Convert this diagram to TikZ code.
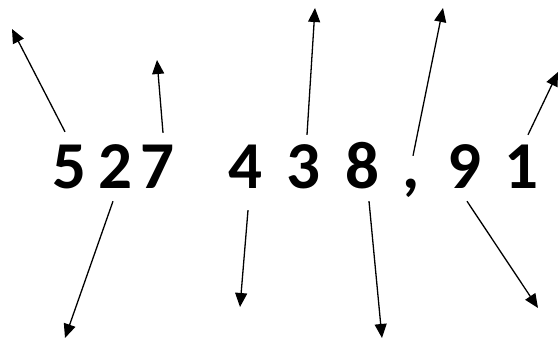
\documentclass[tikz,border=0pt]{standalone}
\usepackage{fontspec}
\setmainfont{Carlito}
\usetikzlibrary{arrows.meta}
\tikzset{
  digit/.style={inner sep=0pt,text height=39pt,text depth=0pt,font=\fontsize{67}{67}\selectfont\bfseries},
  arr/.style={line width=1.3pt,-{Triangle[length=14pt,width=12pt]}}
}
\begin{document}
\begin{tikzpicture}[x=1pt,y=-1pt]
  \useasboundingbox (0,0) rectangle (560,339);
  \node[digit] (d5) at (69.5,169.5) {5};
  \node[digit] (d2) at (115,169.5) {2};
  \node[digit] (d7) at (157.5,169.5) {7};
  \node[digit] (d4) at (245,169.5) {4};
  \node[digit] (d3) at (303.5,169.5) {3};
  \node[digit] (d8) at (362.5,169.5) {8};
  \node[digit] (comma) at (411.5,169.5) {,};
  \node[digit] (d9) at (464,169.5) {9};
  \node[digit] (d1) at (521.5,169.5) {1};
  \coordinate (e5) at (12,29);
  \coordinate (e7) at (157,60);
  \coordinate (e3) at (315,8);
  \coordinate (ec) at (443,8);
  \coordinate (e1) at (558,72);
  \coordinate (e2) at (65,338);
  \coordinate (e4) at (240,307);
  \coordinate (e8) at (382,338);
  \coordinate (e9) at (538,308);
  \draw[arr] ([xshift=-4.5pt,yshift=18pt]d5.north) -- (e5);
  \draw[arr] ([xshift=5.5pt,yshift=17pt]d7.north) -- (e7);
  \draw[arr] ([xshift=3.5pt,yshift=15pt]d3.north) -- (e3);
  \draw[arr] ([xshift=1.5pt,yshift=-6pt]comma.north) -- (ec);
  \draw[arr] ([xshift=6.5pt,yshift=15pt]d1.north) -- (e1);
  \draw[arr] ([xshift=-2pt,yshift=-12pt]d2.south) -- (e2);
  \draw[arr] ([xshift=3pt,yshift=-21pt]d4.south) -- (e4);
  \draw[arr] ([xshift=6.5pt,yshift=-12pt]d8.south) -- (e8);
  \draw[arr] ([xshift=3pt,yshift=-12pt]d9.south) -- (e9);
\end{tikzpicture}
\end{document}
